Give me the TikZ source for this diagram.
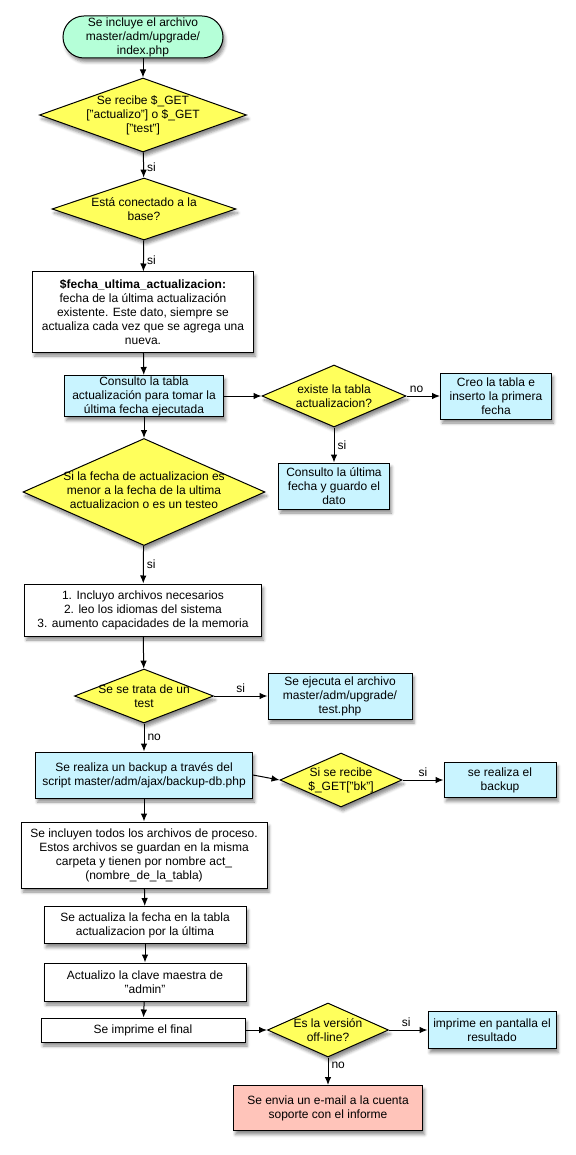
\documentclass[tikz,border=0pt]{standalone}
\usepackage{fontspec}
\setmainfont{Liberation Sans}
\usepackage{tikz}
\usetikzlibrary{shapes.geometric,arrows.meta,shadows.blur}

\definecolor{mint}{HTML}{B5FFD8}
\definecolor{amarillo}{HTML}{FFFF5C}
\definecolor{celeste}{HTML}{C9F4FF}
\definecolor{rosa}{HTML}{FFC4BA}

\tikzset{
	sombra/.style = {blur shadow={shadow xshift=2pt, shadow yshift=-4pt, shadow blur radius=3pt, shadow opacity=45}},
	caja/.style = {draw, line width=1pt, fill=white, inner sep=0pt, align=center, sombra},
	proceso/.style = {caja, fill=celeste},
	inicio/.style = {caja, fill=mint, rounded corners=21pt},
	aviso/.style = {caja, fill=rosa},
	decision/.style = {diamond, draw, line width=1pt, fill=amarillo, inner sep=0pt, sombra},
	dtexto/.style = {align=center, inner sep=0pt},
	flecha/.style = {-{Latex[length=8pt,width=6.5pt]}, line width=1pt},
	rotulo/.style = {inner sep=3pt}
}

\begin{document}
\begin{tikzpicture}[x=1pt, y=-1pt, font=\fontsize{12}{14}\selectfont]

		%%Location
		\useasboundingbox (0,0) rectangle (575,1155);

		%%main column
		\node[inicio, minimum width=160pt, minimum height=42pt] (inicio) at (143,37) {Se incluye el archivo\\master/adm/upgrade/\\index.php};

		\node[decision, minimum width=207pt, minimum height=74pt] (recibe) at (143,115) {};
		\node[dtexto] (recibet) at (recibe) {Se recibe \$\_GET\\{}["actualizo"] o \$\_GET\\{}["test"]};

		\node[decision, minimum width=184pt, minimum height=62pt] (conectado) at (144,209) {};
		\node[dtexto] (conectadot) at (conectado) {Está conectado a la\\base?};

		\node[caja, minimum width=221pt, minimum height=80pt] (fecha) at (143,312) {\textbf{\$fecha\_ultima\_actualizacion:}\\fecha de la última actualización\\existente. Este dato, siempre se\\actualiza cada vez que se agrega una\\nueva.};

		\node[proceso, minimum width=159pt, minimum height=41pt] (consulto) at (144,396) {Consulto la tabla\\actualización para tomar la\\última fecha ejecutada};

		\node[decision, minimum width=242pt, minimum height=107pt] (menor) at (144,492) {};
		\node[dtexto] (menort) at (144,490) {Si la fecha de actualizacion es\\menor a la fecha de la ultima\\actualizacion o es un testeo};

		\node[caja, minimum width=237pt, minimum height=52pt] (incluyo) at (143,610) {1. Incluyo archivos necesarios\\2. leo los idiomas del sistema\\3. aumento capacidades de la memoria};

		\node[decision, minimum width=139pt, minimum height=54pt] (test) at (144,696) {};
		\node[dtexto] (testt) at (test) {Se se trata de un\\test};

		\node[proceso, minimum width=217pt, minimum height=46pt] (backup) at (144,775) {Se realiza un backup a través del\\script master/adm/ajax/backup-db.php};

		\node[caja, minimum width=246pt, minimum height=66pt] (procesos) at (144,855) {Se incluyen todos los archivos de proceso.\\Estos archivos se guardan en la misma\\carpeta y tienen por nombre act\_\\{}(nombre\_de\_la\_tabla)};

		\node[caja, minimum width=202pt, minimum height=37pt] (fechaup) at (145,925) {Se actualiza la fecha en la tabla\\actualizacion por la última};

		\node[caja, minimum width=202pt, minimum height=38pt] (clave) at (145,982) {Actualizo la clave maestra de\\"admin"};

		\node[caja, minimum width=204pt, minimum height=24pt] (final) at (143,1030) {Se imprime el final};

		%%right column
		\node[decision, minimum width=144pt, minimum height=62pt] (existe) at (334,396) {};
		\node[dtexto] (existet) at (existe) {existe la tabla\\actualizacion?};

		\node[proceso, minimum width=111pt, minimum height=46pt] (creo) at (496,396) {Creo la tabla e\\inserto la primera\\fecha};

		\node[proceso, minimum width=111pt, minimum height=46pt] (ultima) at (334,486) {Consulto la última\\fecha y guardo el\\dato};

		\node[proceso, minimum width=144pt, minimum height=46pt] (ejecuta) at (340,696) {Se ejecuta el archivo\\master/adm/upgrade/\\test.php};

		\node[decision, minimum width=122pt, minimum height=54pt] (bk) at (341,780) {};
		\node[dtexto] (bkt) at (bk) {Si se recibe\\\$\_GET["bk"]};

		\node[proceso, minimum width=112pt, minimum height=35pt] (realiza) at (500,780) {se realiza el\\backup};

		\node[decision, minimum width=121pt, minimum height=54pt] (offline) at (328,1030) {};
		\node[dtexto] (offlinet) at (offline) {Es la versión\\off-line?};

		\node[proceso, minimum width=128pt, minimum height=37pt] (pantalla) at (492,1030) {imprime en pantalla el\\resultado};

		\node[aviso, minimum width=189pt, minimum height=45pt] (email) at (328,1108) {Se envia un e-mail a la cuenta\\soporte con el informe};

		%%arrows
		\draw[flecha] (inicio) -- (recibe);
		\draw[flecha] (recibe) -- node[rotulo, right, pos=0.6] {si} (conectado);
		\draw[flecha] (conectado) -- node[rotulo, right, pos=0.65] {si} (fecha);
		\draw[flecha] (fecha) -- (consulto);
		\draw[flecha] (consulto) -- (existe);
		\draw[flecha] (existe) -- node[rotulo, above, pos=0.3] {no} (creo);
		\draw[flecha] (existe) -- node[rotulo, right] {si} (ultima);
		\draw[flecha] (consulto) -- (menor);
		\draw[flecha] (menor) -- node[rotulo, right] {si} (incluyo);
		\draw[flecha] (incluyo) -- (test);
		\draw[flecha] (test) -- node[rotulo, above, pos=0.5] {si} (ejecuta);
		\draw[flecha] (test) -- node[rotulo, right] {no} (backup);
		\draw[flecha] (backup.east) -- (bk.west);
		\draw[flecha] (bk) -- node[rotulo, above] {si} (realiza);
		\draw[flecha] (backup) -- (procesos);
		\draw[flecha] (procesos) -- (fechaup);
		\draw[flecha] (fechaup) -- (clave);
		\draw[flecha] (clave) -- (final);
		\draw[flecha] (final) -- (offline);
		\draw[flecha] (offline) -- node[rotulo, above, pos=0.45] {si} (pantalla);
		\draw[flecha] (offline) -- node[rotulo, right, pos=0.3] {no} (email);

\end{tikzpicture}
\end{document}
